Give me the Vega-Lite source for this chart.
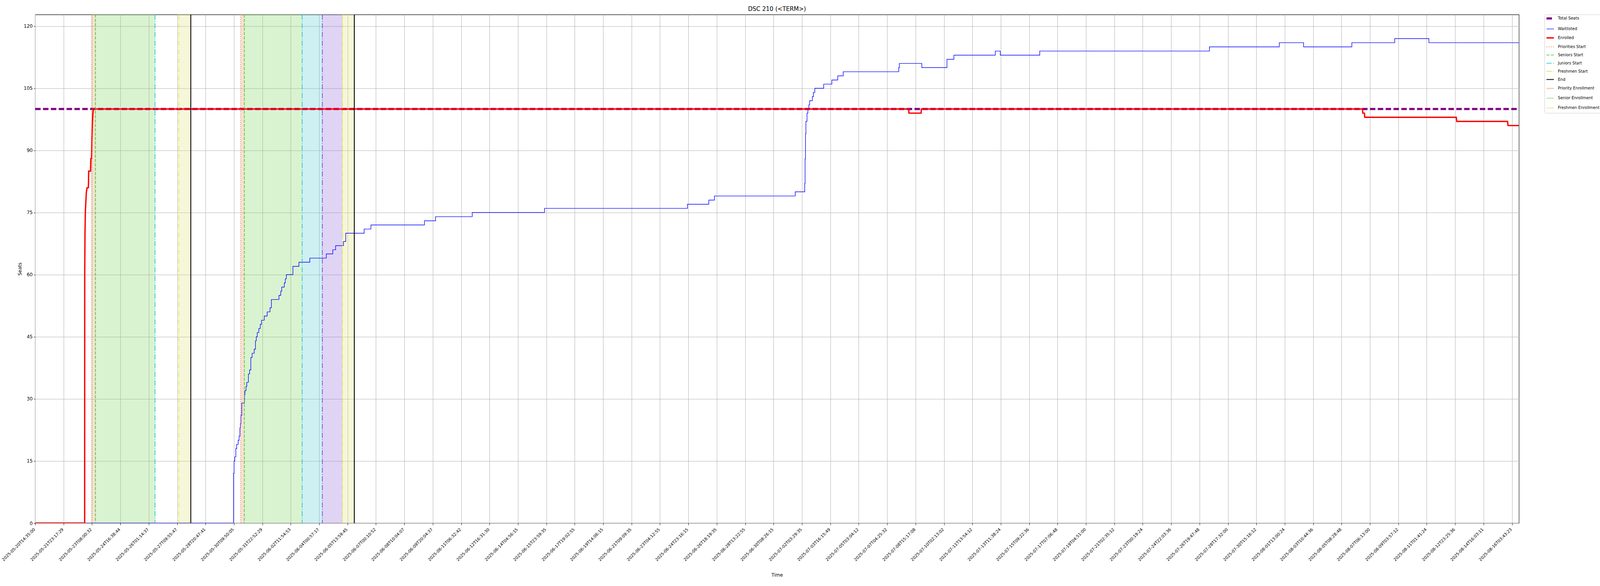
{
  "$schema": "https://vega.github.io/schema/vega-lite/v6.json",
  "autosize": {"type": "none"},
  "padding": {"left": 90, "top": 37.2, "right": 207.6, "bottom": 161},
  "width": 3798.4,
  "height": 1301.8,
  "title": {"text": "DSC 210 (<TERM>)", "fontSize": 15, "fontWeight": "normal", "font": "DejaVu Sans", "color": "black", "anchor": "middle", "frame": "group", "baseline": "alphabetic", "offset": -6.7},
  "datasets": {
    "periods": [
      {"start": 7.97, "end": 8.49, "period": "Priority Enrollment"},
      {"start": 8.49, "end": 16.88, "period": "Senior Enrollment"},
      {"start": 20.22, "end": 21.92, "period": "Freshmen Enrollment"},
      {"start": 28.94, "end": 29.46, "period": "Priority Enrollment"},
      {"start": 29.46, "end": 37.61, "period": "Senior Enrollment"},
      {"start": 37.61, "end": 40.45, "period": "Junior Enrollment"},
      {"start": 40.45, "end": 43.28, "period": "Sophomore Enrollment"},
      {"start": 43.28, "end": 44.95, "period": "Freshmen Enrollment"}
    ],
    "events": [
      {"pos": 7.97, "series": "Priorities Start"},
      {"pos": 8.49, "series": "Seniors Start"},
      {"pos": 16.88, "series": "Juniors Start"},
      {"pos": 20.22, "series": "Freshmen Start"},
      {"pos": 21.92, "series": "End"},
      {"pos": 28.94, "series": "Priorities Start"},
      {"pos": 29.46, "series": "Seniors Start"},
      {"pos": 37.61, "series": "Juniors Start"},
      {"pos": 40.45, "series": "Sophomores Start"},
      {"pos": 43.28, "series": "Freshmen Start"},
      {"pos": 44.95, "series": "End"}
    ],
    "seats": [
      {"pos": 0, "seats": 100, "series": "Total Seats"},
      {"pos": 208.98, "seats": 100, "series": "Total Seats"},
      {"pos": 0, "seats": 0, "series": "Waitlisted"},
      {"pos": 27.93, "seats": 12, "series": "Waitlisted"},
      {"pos": 28.02, "seats": 15, "series": "Waitlisted"},
      {"pos": 28.12, "seats": 16, "series": "Waitlisted"},
      {"pos": 28.26, "seats": 18, "series": "Waitlisted"},
      {"pos": 28.38, "seats": 19, "series": "Waitlisted"},
      {"pos": 28.59, "seats": 20, "series": "Waitlisted"},
      {"pos": 28.72, "seats": 21, "series": "Waitlisted"},
      {"pos": 28.84, "seats": 23, "series": "Waitlisted"},
      {"pos": 28.91, "seats": 24, "series": "Waitlisted"},
      {"pos": 28.98, "seats": 26, "series": "Waitlisted"},
      {"pos": 29.1, "seats": 29, "series": "Waitlisted"},
      {"pos": 29.48, "seats": 31, "series": "Waitlisted"},
      {"pos": 29.55, "seats": 32, "series": "Waitlisted"},
      {"pos": 29.7, "seats": 33, "series": "Waitlisted"},
      {"pos": 29.8, "seats": 34, "series": "Waitlisted"},
      {"pos": 30.03, "seats": 36, "series": "Waitlisted"},
      {"pos": 30.2, "seats": 37, "series": "Waitlisted"},
      {"pos": 30.38, "seats": 40, "series": "Waitlisted"},
      {"pos": 30.56, "seats": 41, "series": "Waitlisted"},
      {"pos": 30.85, "seats": 42, "series": "Waitlisted"},
      {"pos": 31.03, "seats": 44, "series": "Waitlisted"},
      {"pos": 31.14, "seats": 45, "series": "Waitlisted"},
      {"pos": 31.28, "seats": 46, "series": "Waitlisted"},
      {"pos": 31.5, "seats": 47, "series": "Waitlisted"},
      {"pos": 31.71, "seats": 48, "series": "Waitlisted"},
      {"pos": 31.88, "seats": 49, "series": "Waitlisted"},
      {"pos": 32.27, "seats": 50, "series": "Waitlisted"},
      {"pos": 32.68, "seats": 51, "series": "Waitlisted"},
      {"pos": 33.08, "seats": 52, "series": "Waitlisted"},
      {"pos": 33.27, "seats": 54, "series": "Waitlisted"},
      {"pos": 34.34, "seats": 55, "series": "Waitlisted"},
      {"pos": 34.59, "seats": 56, "series": "Waitlisted"},
      {"pos": 34.73, "seats": 57, "series": "Waitlisted"},
      {"pos": 35.09, "seats": 58, "series": "Waitlisted"},
      {"pos": 35.23, "seats": 59, "series": "Waitlisted"},
      {"pos": 35.38, "seats": 60, "series": "Waitlisted"},
      {"pos": 36.3, "seats": 62, "series": "Waitlisted"},
      {"pos": 37.15, "seats": 63, "series": "Waitlisted"},
      {"pos": 38.69, "seats": 64, "series": "Waitlisted"},
      {"pos": 41.01, "seats": 65, "series": "Waitlisted"},
      {"pos": 41.92, "seats": 66, "series": "Waitlisted"},
      {"pos": 42.32, "seats": 67, "series": "Waitlisted"},
      {"pos": 43.43, "seats": 68, "series": "Waitlisted"},
      {"pos": 43.74, "seats": 70, "series": "Waitlisted"},
      {"pos": 46.34, "seats": 71, "series": "Waitlisted"},
      {"pos": 47.29, "seats": 72, "series": "Waitlisted"},
      {"pos": 54.83, "seats": 73, "series": "Waitlisted"},
      {"pos": 56.39, "seats": 74, "series": "Waitlisted"},
      {"pos": 61.56, "seats": 75, "series": "Waitlisted"},
      {"pos": 71.74, "seats": 76, "series": "Waitlisted"},
      {"pos": 91.87, "seats": 77, "series": "Waitlisted"},
      {"pos": 94.88, "seats": 78, "series": "Waitlisted"},
      {"pos": 95.67, "seats": 79, "series": "Waitlisted"},
      {"pos": 107.05, "seats": 80, "series": "Waitlisted"},
      {"pos": 108.39, "seats": 82, "series": "Waitlisted"},
      {"pos": 108.44, "seats": 88, "series": "Waitlisted"},
      {"pos": 108.5, "seats": 94, "series": "Waitlisted"},
      {"pos": 108.56, "seats": 97, "series": "Waitlisted"},
      {"pos": 108.71, "seats": 99, "series": "Waitlisted"},
      {"pos": 108.84, "seats": 100, "series": "Waitlisted"},
      {"pos": 108.97, "seats": 101, "series": "Waitlisted"},
      {"pos": 109.08, "seats": 102, "series": "Waitlisted"},
      {"pos": 109.46, "seats": 103, "series": "Waitlisted"},
      {"pos": 109.61, "seats": 104, "series": "Waitlisted"},
      {"pos": 109.81, "seats": 105, "series": "Waitlisted"},
      {"pos": 111.06, "seats": 106, "series": "Waitlisted"},
      {"pos": 112.21, "seats": 107, "series": "Waitlisted"},
      {"pos": 113.04, "seats": 108, "series": "Waitlisted"},
      {"pos": 113.81, "seats": 109, "series": "Waitlisted"},
      {"pos": 121.63, "seats": 110, "series": "Waitlisted"},
      {"pos": 121.72, "seats": 111, "series": "Waitlisted"},
      {"pos": 124.88, "seats": 110, "series": "Waitlisted"},
      {"pos": 128.43, "seats": 112, "series": "Waitlisted"},
      {"pos": 129.4, "seats": 113, "series": "Waitlisted"},
      {"pos": 135.23, "seats": 114, "series": "Waitlisted"},
      {"pos": 135.93, "seats": 113, "series": "Waitlisted"},
      {"pos": 141.49, "seats": 114, "series": "Waitlisted"},
      {"pos": 165.39, "seats": 115, "series": "Waitlisted"},
      {"pos": 175.23, "seats": 116, "series": "Waitlisted"},
      {"pos": 178.66, "seats": 115, "series": "Waitlisted"},
      {"pos": 185.45, "seats": 116, "series": "Waitlisted"},
      {"pos": 191.49, "seats": 117, "series": "Waitlisted"},
      {"pos": 196.3, "seats": 116, "series": "Waitlisted"},
      {"pos": 208.98, "seats": 116, "series": "Waitlisted"},
      {"pos": 0, "seats": 0, "series": "Enrolled"},
      {"pos": 6.97, "seats": 0, "series": "Enrolled"},
      {"pos": 6.98, "seats": 60, "series": "Enrolled"},
      {"pos": 7.02, "seats": 70, "series": "Enrolled"},
      {"pos": 7.07, "seats": 75, "series": "Enrolled"},
      {"pos": 7.15, "seats": 78, "series": "Enrolled"},
      {"pos": 7.22, "seats": 80, "series": "Enrolled"},
      {"pos": 7.32, "seats": 81, "series": "Enrolled"},
      {"pos": 7.5, "seats": 81, "series": "Enrolled"},
      {"pos": 7.54, "seats": 85, "series": "Enrolled"},
      {"pos": 7.8, "seats": 85, "series": "Enrolled"},
      {"pos": 7.84, "seats": 88, "series": "Enrolled"},
      {"pos": 7.94, "seats": 88, "series": "Enrolled"},
      {"pos": 7.99, "seats": 93, "series": "Enrolled"},
      {"pos": 8.07, "seats": 97, "series": "Enrolled"},
      {"pos": 8.14, "seats": 99, "series": "Enrolled"},
      {"pos": 8.2, "seats": 100, "series": "Enrolled"},
      {"pos": 123.04, "seats": 100, "series": "Enrolled"},
      {"pos": 123.07, "seats": 99, "series": "Enrolled"},
      {"pos": 124.78, "seats": 99, "series": "Enrolled"},
      {"pos": 124.82, "seats": 100, "series": "Enrolled"},
      {"pos": 186.96, "seats": 100, "series": "Enrolled"},
      {"pos": 186.99, "seats": 99, "series": "Enrolled"},
      {"pos": 187.22, "seats": 99, "series": "Enrolled"},
      {"pos": 187.27, "seats": 98, "series": "Enrolled"},
      {"pos": 200.16, "seats": 98, "series": "Enrolled"},
      {"pos": 200.22, "seats": 97, "series": "Enrolled"},
      {"pos": 207.38, "seats": 97, "series": "Enrolled"},
      {"pos": 207.45, "seats": 96, "series": "Enrolled"},
      {"pos": 208.98, "seats": 96, "series": "Enrolled"}
    ]
  },
  "layer": [
    {
      "data": {"name": "periods"},
      "mark": {"type": "rect", "opacity": 0.3},
      "encoding": {
        "x": {"field": "start", "type": "quantitative", "title": "Time"},
        "x2": {"field": "end"},
        "fill": {
          "field": "period",
          "type": "nominal",
          "scale": {
            "domain": ["Priority Enrollment", "Senior Enrollment", "Junior Enrollment", "Sophomore Enrollment", "Freshmen Enrollment"],
            "range": ["#e19870", "#80d762", "#5ccdd4", "#9870da", "#e1e47d"]
          },
          "legend": null
        }
      }
    },
    {
      "data": {"name": "seats"},
      "encoding": {
        "x": {
          "field": "pos",
          "type": "quantitative",
          "title": "Time",
          "scale": {"domain": [0, 208.98], "nice": false, "zero": false},
          "axis": {
            "values": [0,1,2,3,4,5,6,7,8,9,10,11,12,13,14,15,16,17,18,19,20,21,22,23,24,25,26,27,28,29,30,31,32,33,34,35,36,37,38,39,40,41,42,43,44,45,46,47,48,49,50,51,52,53,54,55,56,57,58,59,60,61,62,63,64,65,66,67,68,69,70,71,72,73,74,75,76,77,78,79,80,81,82,83,84,85,86,87,88,89,90,91,92,93,94,95,96,97,98,99,100,101,102,103,104,105,106,107,108,109,110,111,112,113,114,115,116,117,118,119,120,121,122,123,124,125,126,127,128,129,130,131,132,133,134,135,136,137,138,139,140,141,142,143,144,145,146,147,148,149,150,151,152,153,154,155,156,157,158,159,160,161,162,163,164,165,166,167,168,169,170,171,172,173,174,175,176,177,178,179,180,181,182,183,184,185,186,187,188,189,190,191,192,193,194,195,196,197,198,199,200,201,202,203,204,205,206,207,208],
            "labelExpr": "['2025-05-20T14:35:00','2025-05-20T22:42:19','2025-05-21T06:59:34','2025-05-21T15:08:08','2025-05-21T23:17:29','2025-05-22T07:29:08','2025-05-22T15:39:14','2025-05-22T23:49:59','2025-05-23T08:00:32','2025-05-23T16:12:03','2025-05-24T00:23:23','2025-05-24T08:27:39','2025-05-24T16:38:44','2025-05-25T00:50:10','2025-05-25T08:56:00','2025-05-25T17:04:21','2025-05-26T01:14:37','2025-05-26T09:24:50','2025-05-26T17:35:08','2025-05-27T01:45:33','2025-05-27T09:55:47','2025-05-27T18:06:02','2025-05-28T02:16:29','2025-05-28T11:32:05','2025-05-28T20:47:41','2025-05-29T06:03:17','2025-05-29T15:18:53','2025-05-30T00:34:29','2025-05-30T09:50:05','2025-05-30T19:05:41','2025-05-31T04:21:17','2025-05-31T13:36:53','2025-05-31T22:52:29','2025-06-01T08:08:05','2025-06-01T17:23:41','2025-06-02T02:39:17','2025-06-02T11:54:53','2025-06-02T21:10:29','2025-06-03T06:26:05','2025-06-03T15:41:41','2025-06-04T00:57:17','2025-06-04T10:12:53','2025-06-04T19:28:29','2025-06-05T04:44:05','2025-06-05T13:59:45','2025-06-05T22:30:24','2025-06-06T07:11:05','2025-06-06T15:41:04','2025-06-07T00:10:52','2025-06-07T08:32:17','2025-06-07T17:01:59','2025-06-08T01:32:10','2025-06-08T10:04:07','2025-06-08T18:33:54','2025-06-09T03:05:08','2025-06-09T11:34:14','2025-06-09T20:04:37','2025-06-10T04:40:18','2025-06-10T13:10:52','2025-06-10T21:41:11','2025-06-11T06:32:42','2025-06-11T15:03:13','2025-06-11T23:33:58','2025-06-12T08:00:42','2025-06-12T16:31:30','2025-06-13T01:02:26','2025-06-13T09:39:20','2025-06-13T18:10:25','2025-06-14T04:56:15','2025-06-14T15:42:05','2025-06-15T02:27:55','2025-06-15T13:13:45','2025-06-15T23:59:35','2025-06-16T10:45:25','2025-06-16T21:31:15','2025-06-17T08:17:05','2025-06-17T19:02:55','2025-06-18T05:48:45','2025-06-18T16:34:35','2025-06-19T03:20:25','2025-06-19T14:06:15','2025-06-20T00:52:05','2025-06-20T11:37:55','2025-06-20T22:23:45','2025-06-21T09:09:35','2025-06-21T19:55:25','2025-06-22T06:41:15','2025-06-22T17:27:05','2025-06-23T04:12:55','2025-06-23T14:58:45','2025-06-24T01:44:35','2025-06-24T12:30:25','2025-06-24T23:16:15','2025-06-25T10:02:05','2025-06-25T20:47:55','2025-06-26T07:33:45','2025-06-26T18:19:35','2025-06-27T05:05:25','2025-06-27T15:51:15','2025-06-28T02:37:05','2025-06-28T13:22:55','2025-06-29T00:08:45','2025-06-29T10:54:35','2025-06-29T21:40:25','2025-06-30T08:26:15','2025-06-30T19:12:05','2025-07-01T05:57:55','2025-07-01T16:43:45','2025-07-02T03:29:35','2025-07-02T14:16:41','2025-07-02T22:56:24','2025-07-03T07:33:42','2025-07-03T16:15:49','2025-07-04T00:57:12','2025-07-04T09:42:48','2025-07-04T18:22:14','2025-07-05T03:04:12','2025-07-06T02:09:30','2025-07-06T11:07:50','2025-07-06T19:50:36','2025-07-07T04:25:32','2025-07-07T13:09:43','2025-07-07T22:00:02','2025-07-08T06:32:58','2025-07-08T15:17:08','2025-07-08T23:57:56','2025-07-09T08:38:39','2025-07-09T17:25:15','2025-07-10T02:13:02','2025-07-10T11:11:45','2025-07-10T19:56:07','2025-07-11T05:09:39','2025-07-11T13:54:12','2025-07-12T01:20:15','2025-07-12T12:46:18','2025-07-13T00:12:21','2025-07-13T11:38:24','2025-07-13T23:04:27','2025-07-14T10:30:30','2025-07-14T21:56:33','2025-07-15T09:22:36','2025-07-15T20:48:39','2025-07-16T08:14:42','2025-07-16T19:40:45','2025-07-17T07:06:48','2025-07-17T18:32:51','2025-07-18T05:58:54','2025-07-18T17:24:57','2025-07-19T04:51:00','2025-07-19T16:17:03','2025-07-20T03:43:06','2025-07-20T15:09:09','2025-07-21T02:35:12','2025-07-21T14:01:15','2025-07-22T01:27:18','2025-07-22T12:53:21','2025-07-23T00:19:24','2025-07-23T11:45:27','2025-07-23T23:11:30','2025-07-24T10:37:33','2025-07-24T22:03:36','2025-07-25T09:29:39','2025-07-25T20:55:42','2025-07-26T08:21:45','2025-07-26T19:47:48','2025-07-27T07:13:51','2025-07-27T18:39:54','2025-07-28T06:05:57','2025-07-28T17:32:00','2025-07-29T04:58:03','2025-07-29T16:24:06','2025-07-30T03:50:09','2025-07-30T15:16:12','2025-07-31T02:42:15','2025-07-31T14:08:18','2025-08-01T01:34:21','2025-08-01T13:00:24','2025-08-02T00:26:27','2025-08-02T11:52:30','2025-08-02T23:18:33','2025-08-03T10:44:36','2025-08-03T22:10:39','2025-08-04T09:36:42','2025-08-04T21:02:45','2025-08-05T08:28:48','2025-08-05T19:54:51','2025-08-06T07:20:54','2025-08-06T18:46:57','2025-08-07T06:13:00','2025-08-07T17:39:03','2025-08-08T05:05:06','2025-08-08T16:31:09','2025-08-09T03:57:12','2025-08-09T15:23:15','2025-08-10T02:49:18','2025-08-10T14:15:21','2025-08-11T01:41:24','2025-08-11T13:07:27','2025-08-12T00:33:30','2025-08-12T11:59:33','2025-08-12T23:25:36','2025-08-13T10:51:39','2025-08-13T22:17:40','2025-08-14T07:09:39','2025-08-14T16:03:11','2025-08-15T00:55:53','2025-08-15T09:59:33','2025-08-15T18:51:53','2025-08-16T03:43:23'][datum.value]",
            "labelFontSize": 10.5,
            "labelAngle": -45,
            "labelAlign": "right",
            "labelBaseline": "middle",
            "labelOffset": -2,
            "labelPadding": 9.4,
            "labelOverlap": false,
            "labelFlush": false,
            "labelBound": false,
            "titleFontSize": 12,
            "titlePadding": 28
          }
        },
        "stroke": {
          "field": "series",
          "type": "nominal",
          "scale": {
            "domain": ["Total Seats", "Waitlisted", "Enrolled", "Priorities Start", "Seniors Start", "Juniors Start", "Freshmen Start", "End", "Priority Enrollment", "Senior Enrollment", "Freshmen Enrollment", "Sophomores Start"],
            "range": ["#800080", "#0000ff", "#ff0000", "#e8743b", "#38c814", "#12bfd0", "#e0e03a", "#000000", "#f2d2c2", "#c8ecbc", "#eef0c4", "#7a35e0"]
          },
          "legend": {"title": null, "symbolType": "M-4.75,0H4.75", "values": ["Total Seats", "Waitlisted", "Enrolled", "Priorities Start", "Seniors Start", "Juniors Start", "Freshmen Start", "End", "Priority Enrollment", "Senior Enrollment", "Freshmen Enrollment"]}
        },
        "strokeDash": {
          "field": "series",
          "type": "nominal",
          "scale": {
            "domain": ["Total Seats", "Waitlisted", "Enrolled", "Priorities Start", "Seniors Start", "Juniors Start", "Freshmen Start", "End", "Priority Enrollment", "Senior Enrollment", "Freshmen Enrollment", "Sophomores Start"],
            "range": [[14, 6.1], [1, 0], [1, 0], [2, 3.5], [7.8, 3.4], [13.4, 3.4, 2.1, 3.4], [13.4, 3.4, 2.1, 3.4], [1, 0], [1, 0], [1, 0], [1, 0], [13.4, 3.4, 2.1, 3.4]]
          },
          "legend": {"title": null, "symbolType": "M-4.75,0H4.75", "values": ["Total Seats", "Waitlisted", "Enrolled", "Priorities Start", "Seniors Start", "Juniors Start", "Freshmen Start", "End", "Priority Enrollment", "Senior Enrollment", "Freshmen Enrollment"]}
        },
        "strokeWidth": {
          "field": "series",
          "type": "nominal",
          "scale": {
            "type": "ordinal",
            "domain": ["Total Seats", "Waitlisted", "Enrolled", "Priorities Start", "Seniors Start", "Juniors Start", "Freshmen Start", "End", "Priority Enrollment", "Senior Enrollment", "Freshmen Enrollment", "Sophomores Start"],
            "range": [5.5, 1.4, 3.4, 1.6, 1.6, 1.6, 1.6, 2.2, 3.5, 3.5, 3.5, 1.6]
          },
          "legend": {"title": null, "symbolType": "M-4.75,0H4.75", "values": ["Total Seats", "Waitlisted", "Enrolled", "Priorities Start", "Seniors Start", "Juniors Start", "Freshmen Start", "End", "Priority Enrollment", "Senior Enrollment", "Freshmen Enrollment"]}
        }
      },
      "layer": [
        {
          "transform": [{"filter": "datum.series === 'Total Seats'"}],
          "mark": {"type": "line", "clip": true},
          "encoding": {
            "y": {"field": "seats", "type": "quantitative", "title": "Seats", "scale": {"domain": [0, 122.81], "nice": false}, "axis": {"values": [0, 15, 30, 45, 60, 75, 90, 105, 120], "labelFontSize": 12, "titleFontSize": 12, "tickSize": 3.4, "labelPadding": 3.4, "titlePadding": 2.3}}
          }
        },
        {
          "transform": [{"filter": "datum.series === 'Waitlisted'"}],
          "mark": {"type": "line", "interpolate": "step-after", "clip": true},
          "encoding": {
            "y": {"field": "seats", "type": "quantitative", "title": "Seats"}
          }
        },
        {
          "transform": [{"filter": "datum.series === 'Enrolled'"}],
          "mark": {"type": "line", "clip": true},
          "encoding": {
            "y": {"field": "seats", "type": "quantitative", "title": "Seats"}
          }
        },
        {
          "data": {"name": "events"},
          "mark": {"type": "rule"},
          "encoding": {}
        }
      ]
    }
  ],
  "config": {
    "font": "DejaVu Sans",
    "view": {"stroke": "black", "strokeWidth": 1.1},
    "axis": {
      "labelFont": "DejaVu Sans",
      "labelFontSize": 12,
      "labelColor": "black",
      "titleFont": "DejaVu Sans",
      "titleFontSize": 12,
      "titleFontWeight": "normal",
      "titleColor": "black",
      "tickColor": "black",
      "tickWidth": 1,
      "tickSize": 4.9,
      "grid": true,
      "gridColor": "#b0b0b0",
      "gridWidth": 1,
      "domain": false
    },
    "legend": {
      "orient": "right",
      "offset": 65,
      "padding": 5,
      "rowPadding": 10.9,
      "labelFont": "DejaVu Sans",
      "labelFontSize": 10,
      "labelColor": "black",
      "labelLimit": 300,
      "labelOffset": 14.8,
      "symbolOffset": 4.5,
      "symbolSize": 16,
      "strokeColor": "#cccccc",
      "fillColor": "white",
      "cornerRadius": 3
    }
  }
}
